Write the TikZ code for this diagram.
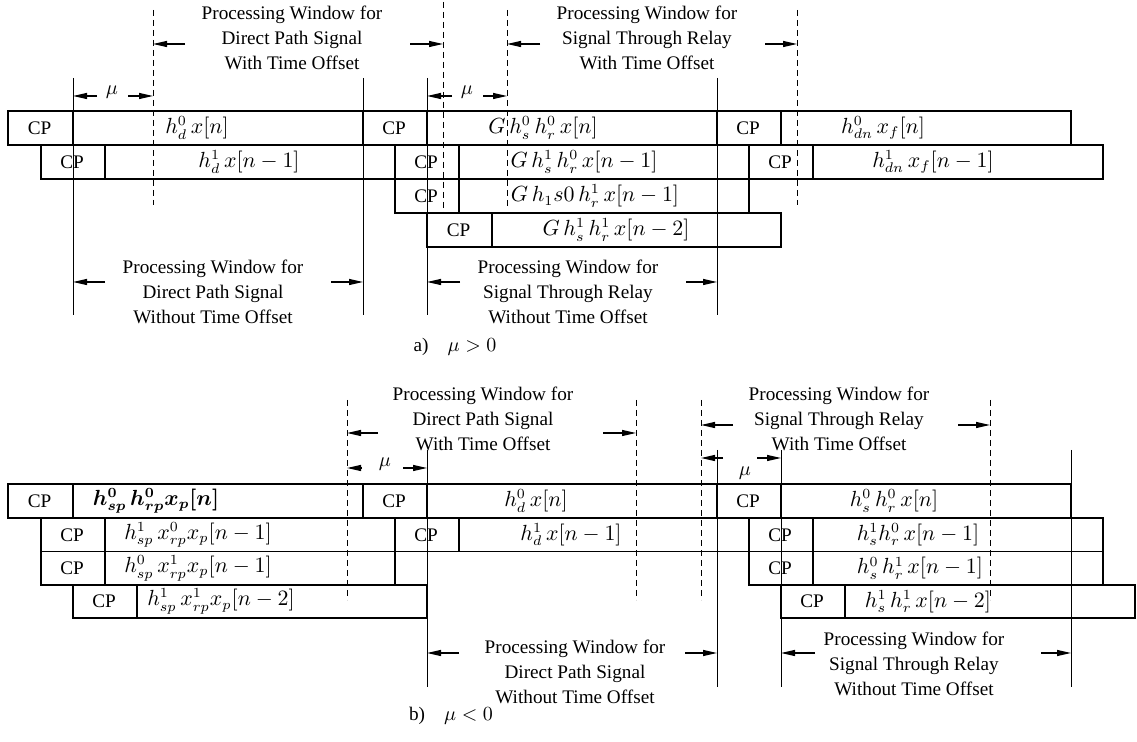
\documentclass[tikz,border=0pt]{standalone}
\usepackage[no-math]{fontspec}
\setmainfont{Liberation Serif}
\usepackage{bm}
\usetikzlibrary{arrows.meta}
\newcommand\slot[8]{%
  \draw[boxline] (#2,#5) rectangle (#4,#6);
  \draw[boxline] (#3,#5) -- (#3,#6);
  \node[cptext] (#1c) at ({(#2+#3)/2-1},{(#5+#6)/2}) {CP};
  \node[rowmath] (#1) at (#7,{(#5+#6)/2}) {$#8$};
}
\begin{document}
\begin{tikzpicture}[x=0.5pt,y=-0.5pt,
  boxline/.style={line width=0.6pt},
  vline/.style={line width=0.5pt},
  dline/.style={line width=0.5pt,dash pattern=on 3pt off 2pt},
  warrow/.style={line width=0.6pt,-{Triangle[length=7pt,width=3pt]}},
  cptext/.style={font=\fontsize{9.6}{12}\selectfont,inner sep=0pt},
  rowmath/.style={font=\fontsize{10.5}{12}\selectfont,inner sep=0pt},
  wintext/.style={font=\fontsize{9.6}{12.5}\selectfont,align=center,inner sep=0pt},
  mulabel/.style={font=\fontsize{9.6}{12}\selectfont,inner sep=0pt}]
\useasboundingbox[fill=white] (0,0) rectangle (1137,742);

% ================= (a) mu > 0 =================
% solid window lines
\foreach \n/\x in {sa1/73,sa2/363,sa3/427,sa4/717}{
  \coordinate (\n t) at (\x,78); \coordinate (\n b) at (\x,315);
  \draw[vline] (\n t) -- (\n b);}
% dashed window lines
\foreach \n/\x/\yt/\yb in {da1/153/10/205,da2/443/2/213,da3/507/10/207,da4/797/10/205}{
  \coordinate (\n t) at (\x,\yt); \coordinate (\n b) at (\x,\yb);
  \draw[dline] (\n t) -- (\n b);}

% boxes
\slot{aA}{8}{73}{363}{111}{145}{197}{h^0_d\,x[n]}
\slot{aB}{41}{105}{395}{145}{179}{249}{h^1_d\,x[n-1]}
\slot{aC}{363}{427}{717}{111}{145}{543}{G\,h^0_s\,h^0_r\,x[n]}
\slot{aD}{395}{459}{749}{145}{179}{584}{G\,h^1_s\,h^0_r\,x[n-1]}
\slot{aE}{395}{459}{749}{179}{213}{595}{G\,h_1s0\,h^1_r\,x[n-1]}
\slot{aF}{427}{492}{781}{213}{247}{616}{G\,h^1_s\,h^1_r\,x[n-2]}
\slot{aG}{717}{781}{1071}{111}{145}{883}{h^0_{dn}\,x_f[n]}
\slot{aH}{749}{813}{1103}{145}{179}{933}{h^1_{dn}\,x_f[n-1]}

% window labels
\node[wintext] (wa1) at (292,38) {Processing Window for\\Direct Path Signal\\With Time Offset};
\node[wintext] (wa2) at (647,38) {Processing Window for\\Signal Through Relay\\With Time Offset};
\node[wintext] (wa3) at (213,292) {Processing Window for\\Direct Path Signal\\Without Time Offset};
\node[wintext] (wa4) at (568,292) {Processing Window for\\Signal Through Relay\\Without Time Offset};

% arrows
\coordinate (aw1l) at (185,44); \coordinate (aw1le) at (153,44);
\coordinate (aw1r) at (410,44); \coordinate (aw1re) at (443,44);
\coordinate (aw2l) at (540,44); \coordinate (aw2le) at (507,44);
\coordinate (aw2r) at (765,44); \coordinate (aw2re) at (797,44);
\draw[warrow] (aw1l) -- (aw1le); \draw[warrow] (aw1r) -- (aw1re);
\draw[warrow] (aw2l) -- (aw2le); \draw[warrow] (aw2r) -- (aw2re);

\coordinate (am1l) at (97,96); \coordinate (am1le) at (73,96);
\coordinate (am1r) at (128,96); \coordinate (am1re) at (153,96);
\draw[warrow] (am1l) -- (am1le); \draw[warrow] (am1r) -- (am1re);
\node[mulabel] (mua1) at (112,92) {$\mu$};
\coordinate (am2l) at (452,96); \coordinate (am2le) at (427,96);
\coordinate (am2r) at (483,96); \coordinate (am2re) at (507,96);
\draw[warrow] (am2l) -- (am2le); \draw[warrow] (am2r) -- (am2re);
\node[mulabel] (mua2) at (467,92) {$\mu$};

\coordinate (ab1l) at (105,282); \coordinate (ab1le) at (73,282);
\coordinate (ab1r) at (331,282); \coordinate (ab1re) at (363,282);
\coordinate (ab2l) at (460,282); \coordinate (ab2le) at (427,282);
\coordinate (ab2r) at (686,282); \coordinate (ab2re) at (717,282);
\draw[warrow] (ab1l) -- (ab1le); \draw[warrow] (ab1r) -- (ab1re);
\draw[warrow] (ab2l) -- (ab2le); \draw[warrow] (ab2r) -- (ab2re);

\node[mulabel] (capa) at (455,347) {a)\quad$\mu>0$};

% ================= (b) mu < 0 =================
\foreach \n/\x in {sb1/427,sb2/717,sb3/781,sb4/1071}{
  \coordinate (\n t) at (\x,450); \coordinate (\n b) at (\x,687);
  \draw[vline] (\n t) -- (\n b);}
\foreach \n/\x in {db1/347,db2/636,db3/701,db4/990}{
  \coordinate (\n t) at (\x,400); \coordinate (\n b) at (\x,600);
  \draw[dline] (\n t) -- (\n b);}

\slot{bA}{8}{73}{363}{484}{518}{156}{\bm{h^0_{sp}\,h^0_{rp}x_p[n]}}
\slot{bB}{41}{105}{395}{518}{551.5}{198}{h^1_{sp}\,x^0_{rp}x_p[n-1]}
\slot{bC}{41}{105}{395}{551.5}{585}{198}{h^0_{sp}\,x^1_{rp}x_p[n-1]}
\slot{bD}{73}{137}{427}{585}{618}{221}{h^1_{sp}\,x^1_{rp}x_p[n-2]}
\slot{bE}{363}{427}{717}{484}{518}{536}{h^0_d\,x[n]}
\slot{bF}{395}{459}{749}{518}{551.5}{571}{h^1_d\,x[n-1]}
\slot{bG}{717}{781}{1071}{484}{518}{894}{h^0_s\,h^0_r\,x[n]}
\slot{bH}{749}{813}{1103}{518}{551.5}{918}{h^1_sh^0_r\,x[n-1]}
\slot{bI}{749}{813}{1103}{551.5}{585}{920}{h^0_s\,h^1_r\,x[n-1]}
\slot{bJ}{781}{845}{1135}{585}{618}{928}{h^1_s\,h^1_r\,x[n-2]}

\node[wintext] (wb1) at (483,419) {Processing Window for\\Direct Path Signal\\With Time Offset};
\node[wintext] (wb2) at (839,419) {Processing Window for\\Signal Through Relay\\With Time Offset};
\node[wintext] (wb3) at (575,672) {Processing Window for\\Direct Path Signal\\Without Time Offset};
\node[wintext] (wb4) at (914,664) {Processing Window for\\Signal Through Relay\\Without Time Offset};

\coordinate (bw1l) at (378,433); \coordinate (bw1le) at (347,433);
\coordinate (bw1r) at (603,433); \coordinate (bw1re) at (636,433);
\coordinate (bw2l) at (733,425); \coordinate (bw2le) at (701,425);
\coordinate (bw2r) at (958,425); \coordinate (bw2re) at (990,425);
\draw[warrow] (bw1l) -- (bw1le); \draw[warrow] (bw1r) -- (bw1re);
\draw[warrow] (bw2l) -- (bw2le); \draw[warrow] (bw2r) -- (bw2re);

\coordinate (bm1l) at (362,468); \coordinate (bm1le) at (347,468);
\coordinate (bm1r) at (403,468); \coordinate (bm1re) at (427,468);
\draw[warrow] (bm1l) -- (bm1le); \draw[warrow] (bm1r) -- (bm1re);
\node[mulabel] (mub1) at (385,464) {$\mu$};
\coordinate (bm2l) at (723,458); \coordinate (bm2le) at (701,458);
\coordinate (bm2r) at (757,458); \coordinate (bm2re) at (781,458);
\draw[warrow] (bm2l) -- (bm2le); \draw[warrow] (bm2r) -- (bm2re);
\node[mulabel] (mub2) at (745,473) {$\mu$};

\coordinate (bb1l) at (459,653); \coordinate (bb1le) at (427,653);
\coordinate (bb1r) at (685,653); \coordinate (bb1re) at (717,653);
\coordinate (bb2l) at (815,653); \coordinate (bb2le) at (781,653);
\coordinate (bb2r) at (1041,653); \coordinate (bb2re) at (1071,653);
\draw[warrow] (bb1l) -- (bb1le); \draw[warrow] (bb1r) -- (bb1re);
\draw[warrow] (bb2l) -- (bb2le); \draw[warrow] (bb2r) -- (bb2re);

\node[mulabel] (capb) at (451,716) {b)\quad$\mu<0$};
\end{tikzpicture}
\end{document}
